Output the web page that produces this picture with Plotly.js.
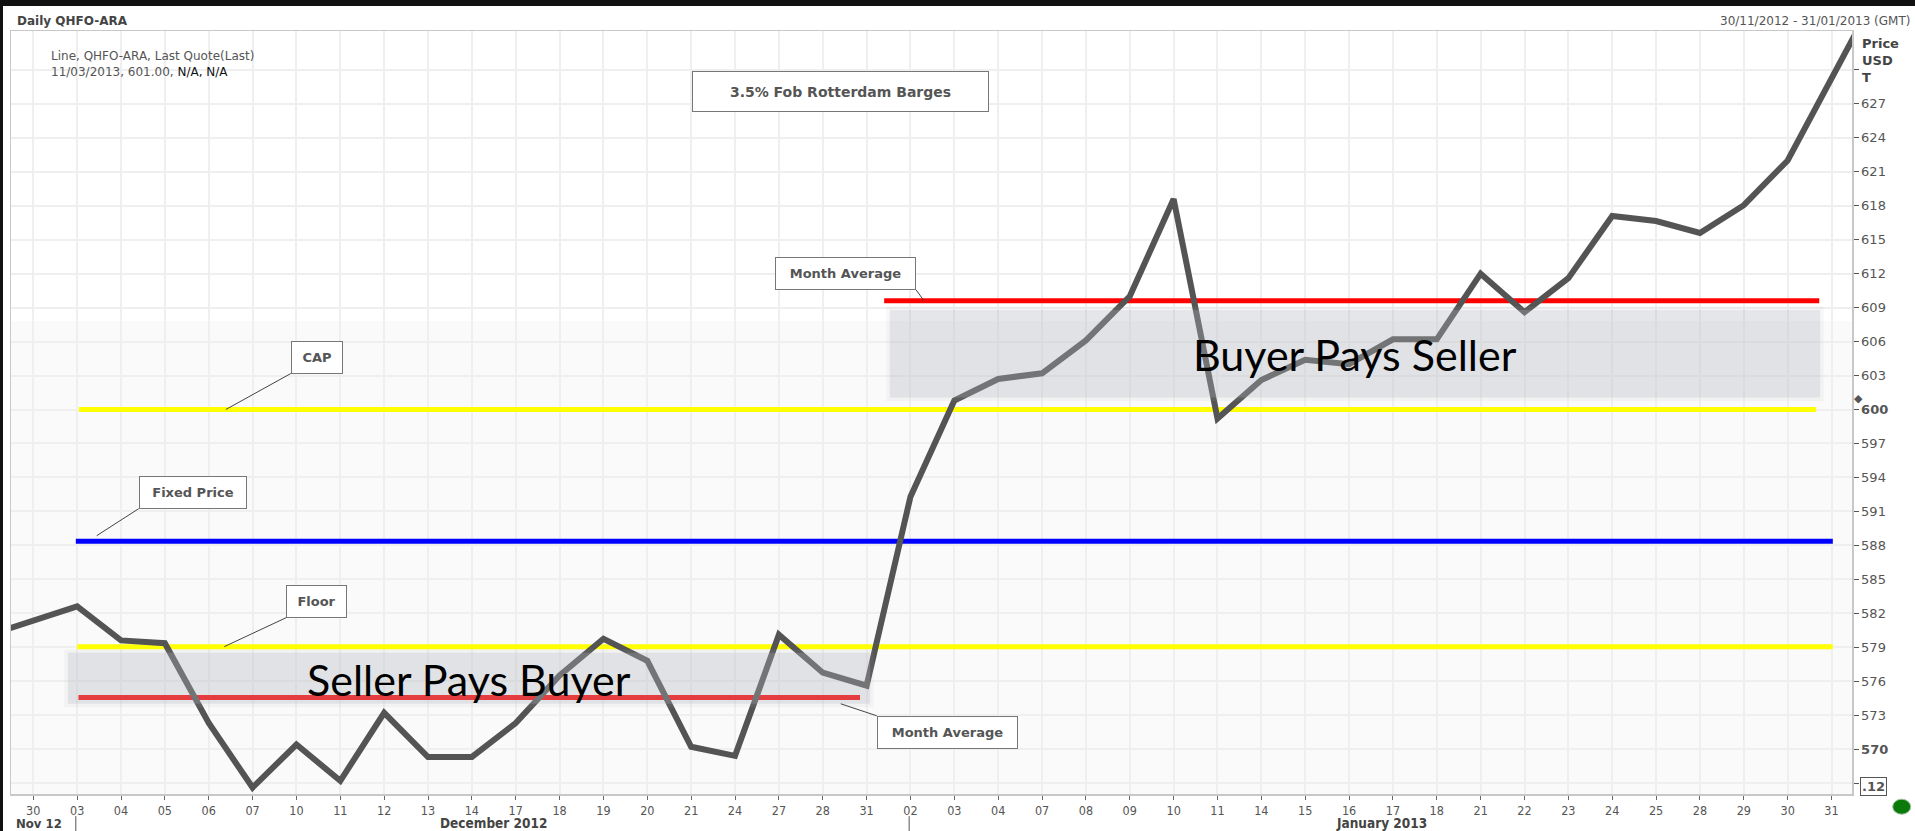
<!DOCTYPE html>
<html>
<head>
<meta charset="utf-8">
<script src="https://cdn.plot.ly/plotly-3.0.1.min.js"></script>
<style>
  html, body { margin: 0; padding: 0; background: #fff; overflow: hidden; }
  #chart { position: absolute; left: 0; top: 0; width: 1915px; height: 831px; }
  .frame-top { position: absolute; left: 0; top: 0; width: 1915px; height: 6px; background: #111; }
  .frame-left { position: absolute; left: 0; top: 0; width: 3px; height: 831px; background: #111; }
</style>
</head>
<body>
<div id="chart"></div>
<div class="frame-top"></div>
<div class="frame-left"></div>
<script>
// trading days, 30 Nov 2012 .. 31 Jan 2013
var days = ["30","03","04","05","06","07","10","11","12","13","14","17","18","19","20","21","24","27","28","31",
            "02","03","04","07","08","09","10","11","14","15","16","17","18","21","22","23","24","25","28","29","30","31"];
var monthNames = ["Nov 12", "December 2012", "January 2013"];

// QHFO-ARA last quote, USD/T
var prices = [581.35, 582.6, 579.6, 579.35, 572.3, 566.6, 570.4, 567.2, 573.2, 569.3, 569.3, 572.3, 576.5, 579.75,
              577.8, 570.2, 569.4, 580.1, 576.75, 575.6, 592.3, 600.8, 602.7, 603.2, 606.1, 610.0, 618.6, 599.2,
              602.6, 604.4, 604.0, 606.2, 606.2, 612.0, 608.6, 611.6, 617.1, 616.65, 615.6, 618.05, 622.0, 629.2];
var priorPrice = 580.1;   // 29 Nov, runs off the left edge
var nextPrice = 636.5;    // 01 Feb, runs off the top right

// reference levels drawn on the chart
var refNames = ["CAP", "Fixed Price", "Floor", "Month Average", "Month Average"];
var refLevels = [600, 588.35, 579.05, 574.55, 609.6];
var refFrom = [1.04, 0.97, 1.0, 1.03, 19.4];
var refTo = [40.65, 41.03, 41.03, 18.85, 40.72];

// settlement zones
var zoneNames = ["Seller Pays Buyer", "Buyer Pays Seller"];
var zoneFrom = [0.79, 19.53];
var zoneTo = [19.08, 40.74];
var zoneLow = [574.0, 601.05];
var zoneHigh = [578.5, 608.8];

var priceTicks = [567, 570, 573, 576, 579, 582, 585, 588, 591, 594, 597, 600, 603, 606, 609, 612, 615, 618, 621, 624, 627, 630];
var priceTickText = ["", "<b>570</b>", "573", "576", "579", "582", "585", "588", "591", "594", "597", "<b>600</b>",
                     "603", "606", "609", "612", "615", "618", "621", "624", "627", ""];
var lastQuote = 601.0;

var refColor = {"CAP": "#ffff00", "Fixed Price": "#0000ff", "Floor": "#ffff00", "Month Average": "#ff0000"};

var idx = days.map(function (d, i) { return i; });

// month boundaries: where the day number drops
var monthStarts = [];
for (var i = 1; i < days.length; i++) {
  if (parseInt(days[i], 10) < parseInt(days[i - 1], 10)) monthStarts.push(i);
}

var xMin = -0.508, xMax = 41.467;
var narrow = "Liberation Sans Narrow, DejaVu Sans Condensed, sans-serif";

var traces = [];
refNames.forEach(function (name, i) {
  traces.push({
    x: [refFrom[i], refTo[i]], y: [refLevels[i], refLevels[i]],
    mode: "lines", line: {color: refColor[name], width: 5},
    hoverinfo: "skip", showlegend: false
  });
});
traces.push({
  x: [-1].concat(idx, [days.length]),
  y: [priorPrice].concat(prices, [nextPrice]),
  mode: "lines", line: {color: "#545454", width: 6},
  name: "QHFO-ARA", showlegend: false
});

var boxFont = {family: "DejaVu Sans, Verdana, sans-serif", size: 13, color: "#555"};
function boxLabel(text, x, y, ax, ay, xa, ya, w) {
  return {
    x: x, y: y, xref: "x", yref: "y", text: "<b>" + text + "</b>",
    showarrow: true, arrowhead: 0, arrowwidth: 1, arrowcolor: "#444",
    ax: ax, ay: ay, xanchor: xa, yanchor: ya,
    bgcolor: "#fff", bordercolor: "#777", borderwidth: 1, borderpad: 7,
    width: w, height: 17, font: boxFont
  };
}

var annotations = [
  boxLabel(refNames[0], 4.39, refLevels[0], 65, -36, "left", "bottom", 36),
  boxLabel(refNames[1], 1.445, refLevels[1] + 0.5, 42, -27, "left", "bottom", 92),
  boxLabel(refNames[2], 4.355, refLevels[2], 62, -29, "left", "bottom", 45),
  boxLabel(refNames[3], 18.41, refLevels[3] - 0.55, 36, 12, "left", "top", 125),
  boxLabel(refNames[4], 20.31, refLevels[4], -8, -11, "right", "bottom", 125),
  {
    xref: "paper", yref: "paper", x: 0.45084, y: 0.9211, xanchor: "center", yanchor: "middle",
    text: "<b>3.5% Fob Rotterdam Barges</b>",
    showarrow: false, bgcolor: "#fff", bordercolor: "#777", borderwidth: 1, borderpad: 10,
    width: 275, height: 19, font: {family: boxFont.family, size: 14, color: "#555"}
  },
  {
    xref: "paper", yref: "paper", x: 0.00217, y: 1.0135, xanchor: "left", yanchor: "middle",
    text: "<b>Daily QHFO-ARA</b>", showarrow: false,
    font: {family: boxFont.family, size: 12, color: "#444"}
  },
  {
    xref: "paper", yref: "paper", x: 1.03259, y: 1.0135, xanchor: "right", yanchor: "middle",
    text: "30/11/2012 - 31/01/2013 (GMT)", showarrow: false,
    font: {family: boxFont.family, size: 12, color: "#555"}
  },
  {
    xref: "paper", yref: "paper", x: 0.02064, y: 0.9561, xanchor: "left", yanchor: "middle", align: "left",
    text: "Line, QHFO-ARA, Last Quote(Last)<br>11/03/2013, " + lastQuote.toFixed(2) +
          ", <span style='color:#111'>N/A, N/A</span>",
    showarrow: false, font: {family: boxFont.family, size: 12, color: "#555"}
  },
  {
    xref: "paper", yref: "paper", x: 1.00434, y: 0.9617, xanchor: "left", yanchor: "middle", align: "left",
    text: "<b>Price<br>USD<br>T</b>", showarrow: false,
    font: {family: boxFont.family, size: 13, color: "#444"}
  },
  {
    xref: "paper", yref: "y", x: 1.0033, y: lastQuote, xanchor: "center", yanchor: "middle",
    text: "\u25C6", showarrow: false, font: {family: "DejaVu Sans", size: 11, color: "#555"}
  },
  {
    xref: "paper", yref: "paper", x: 1.00418, y: 0.0101, xanchor: "left", yanchor: "middle",
    text: "<b>.12</b>", showarrow: false, bordercolor: "#555", borderwidth: 1, borderpad: 1,
    bgcolor: "#fff", font: {family: boxFont.family, size: 13, color: "#555"}
  }
];

// settlement zone captions
zoneNames.forEach(function (name, i) {
  annotations.push({
    x: (zoneFrom[i] + zoneTo[i]) / 2, y: (zoneLow[i] + zoneHigh[i]) / 2 - 0.1,
    xref: "x", yref: "y", text: name, showarrow: false,
    font: {family: "Lato, Open Sans, sans-serif", size: 43, color: "#000"}
  });
});

// month captions under the day ticks
var monthBounds = [xMin].concat(monthStarts, [xMax]);
annotations.push({
  xref: "paper", yref: "paper", x: 0.0016, y: -0.0385, xanchor: "left", yanchor: "middle",
  text: "<b>" + monthNames[0] + "</b>", showarrow: false,
  font: {family: narrow, size: 13, color: "#444"}
});
for (var m = 1; m < monthNames.length; m++) {
  annotations.push({
    xref: "x", yref: "paper", x: (monthBounds[m] + monthBounds[m + 1]) / 2, y: -0.0385,
    xanchor: "center", yanchor: "middle", text: "<b>" + monthNames[m] + "</b>", showarrow: false,
    font: {family: narrow, size: 13.5, color: "#444"}
  });
}

var shapes = [
  {type: "rect", layer: "below", xref: "paper", yref: "paper", x0: 0, x1: 1, y0: 0.62, y1: 1,
   fillcolor: "#ffffff", line: {width: 0}},
  {type: "circle", xref: "paper", yref: "paper", x0: 1.02211, x1: 1.03188, y0: -0.02647, y1: -0.00682,
   fillcolor: "#0a7a0a", line: {color: "#9bbf9b", width: 1}}
];
zoneNames.forEach(function (name, i) {
  // soft halo, then the zone itself
  shapes.push({
    type: "rect", layer: "above", xref: "x", yref: "y",
    x0: zoneFrom[i] - 0.08, x1: zoneTo[i] + 0.08, y0: zoneLow[i] - 0.3, y1: zoneHigh[i] + 0.3,
    fillcolor: "rgba(175,180,190,0.10)", line: {width: 0}
  });
  shapes.push({
    type: "rect", layer: "above", xref: "x", yref: "y",
    x0: zoneFrom[i], x1: zoneTo[i], y0: zoneLow[i], y1: zoneHigh[i],
    fillcolor: "rgba(175,180,190,0.26)", line: {width: 0}
  });
});
monthStarts.forEach(function (s) {
  shapes.push({
    type: "line", xref: "x", yref: "paper", x0: s - 0.03, x1: s - 0.03, y0: -0.029, y1: -0.049,
    line: {color: "#555", width: 1}
  });
});

var layout = {
  width: 1915, height: 831,
  margin: {l: 11, r: 63, t: 31, b: 37, pad: 0},
  paper_bgcolor: "#ffffff",
  plot_bgcolor: "#fafafa",
  showlegend: false,
  xaxis: {
    range: [xMin, xMax], tickmode: "array", tickvals: idx, ticktext: days,
    ticks: "outside", ticklen: 4, tickcolor: "#666", tickwidth: 1,
    showgrid: true, gridcolor: "#efefef", gridwidth: 2, zeroline: false,
    showline: true, linecolor: "#c8c8c8", linewidth: 1.5, mirror: true,
    tickfont: {family: narrow, size: 12.5, color: "#555"},
    fixedrange: true
  },
  yaxis: {
    side: "right", range: [566.03, 633.44], tickmode: "array", tickvals: priceTicks, ticktext: priceTickText,
    ticks: "outside", ticklen: 5, tickcolor: "#555", tickwidth: 1,
    showgrid: true, gridcolor: "#efefef", gridwidth: 2, zeroline: false,
    showline: true, linecolor: "#c8c8c8", linewidth: 1.5, mirror: true,
    tickfont: {family: "DejaVu Sans, Verdana, sans-serif", size: 13, color: "#555"},
    fixedrange: true
  },
  annotations: annotations,
  shapes: shapes
};

Plotly.newPlot("chart", traces, layout, {displayModeBar: false, staticPlot: true});
</script>
</body>
</html>
